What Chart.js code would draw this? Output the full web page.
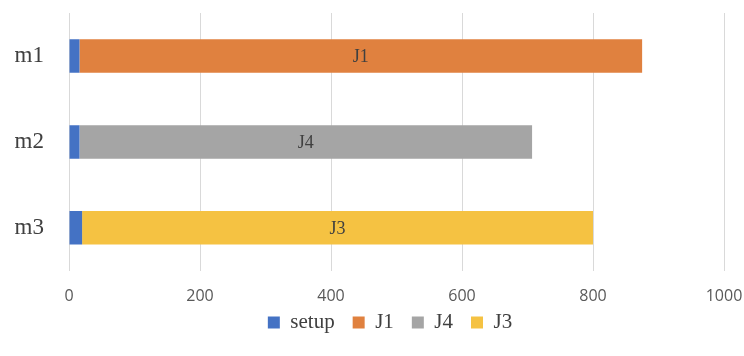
<!DOCTYPE html>
<html>
<head>
<meta charset="utf-8">
<script src="https://cdn.jsdelivr.net/npm/chart.js@4"></script>
<style>
  html, body { margin: 0; padding: 0; background: #fff; }
  #wrap { width: 744px; height: 356px; }
</style>
</head>
<body>
<div id="wrap"><canvas id="ganttChart"></canvas></div>
<script>
// machines and job durations
const machines = ["m1", "m2", "m3"];
const setupTimes = [16, 16, 20];
const j1Times = [859, null, null];
const j4Times = [null, 691, null];
const j3Times = [null, null, 780];
const xTicks = [0, 200, 400, 600, 800, 1000];

// write the job name in the middle of its segment
const segmentLabels = {
    id: "segmentLabels",
    afterDatasetsDraw(chart) {
        const ctx = chart.ctx;
        ctx.save();
        ctx.font = "18px 'Liberation Serif'";
        ctx.fillStyle = "#404040";
        ctx.textAlign = "center";
        ctx.textBaseline = "middle";
        chart.data.datasets.forEach((ds, i) => {
            if (ds.label === "setup") return;
            chart.getDatasetMeta(i).data.forEach((bar, j) => {
                if (ds.data[j] == null) return;
                const { x, base, y } = bar.getProps(["x", "base", "y"], true);
                ctx.fillText(ds.label, (x + base) / 2, y + 1);
            });
        });
        ctx.restore();
    }
};

// legend: keep its wide item spacing but take less room, and sit under the plot
const LEGEND_TRIM = 28;
const legendTweak = {
    id: "legendTweak",
    beforeLayout(chart) {
        const lg = chart.legend;
        if (lg && !lg._trimmed) {
            const fit = lg.fit.bind(lg);
            lg.fit = () => { fit(); lg.height -= LEGEND_TRIM; };
            lg._trimmed = true;
        }
    },
    afterLayout(chart) {
        const lg = chart.legend;
        lg.left += 18;
        lg.right += 18;
        lg.top -= LEGEND_TRIM;
        lg.height += LEGEND_TRIM;
    }
};

new Chart(document.getElementById("ganttChart"), {
    type: "bar",
    data: {
        labels: machines,
        datasets: [
            { label: "setup", data: setupTimes, backgroundColor: "#4472C4" },
            { label: "J1", data: j1Times, backgroundColor: "#E0813F" },
            { label: "J4", data: j4Times, backgroundColor: "#A5A5A5" },
            { label: "J3", data: j3Times, backgroundColor: "#F5C242" }
        ]
    },
    options: {
        indexAxis: "y",
        responsive: true,
        maintainAspectRatio: false,
        animation: false,
        barPercentage: 0.39,
        categoryPercentage: 1,
        layout: { padding: { top: 0, right: 0, left: 0, bottom: 13 } },
        scales: {
            x: {
                stacked: true,
                min: 0,
                max: 1000,
                afterBuildTicks: axis => { axis.ticks = xTicks.map(v => ({ value: v })); },
                afterFit: axis => { axis.paddingLeft = 0; axis.paddingRight = 20; },
                grid: { color: "#D9D9D9", drawTicks: false },
                border: { display: false },
                ticks: {
                    padding: 16,
                    color: "#595959",
                    font: { family: "'Open Sans'", size: 16 },
                    callback: v => String(v)
                }
            },
            y: {
                stacked: true,
                afterFit: axis => {
                    axis.width = 69;
                    axis.paddingTop = 13;
                    axis.paddingBottom = 0;
                },
                grid: { display: false, drawTicks: false },
                border: { display: false },
                ticks: {
                    padding: 25,
                    color: "#404040",
                    font: { family: "'Liberation Serif'", size: 23 }
                }
            }
        },
        plugins: {
            legend: {
                position: "bottom",
                labels: {
                    boxWidth: 12,
                    boxHeight: 12,
                    padding: 18,
                    color: "#404040",
                    font: { family: "'Liberation Serif'", size: 21 }
                }
            },
            tooltip: { enabled: false }
        }
    },
    plugins: [segmentLabels, legendTweak]
});
</script>
</body>
</html>
